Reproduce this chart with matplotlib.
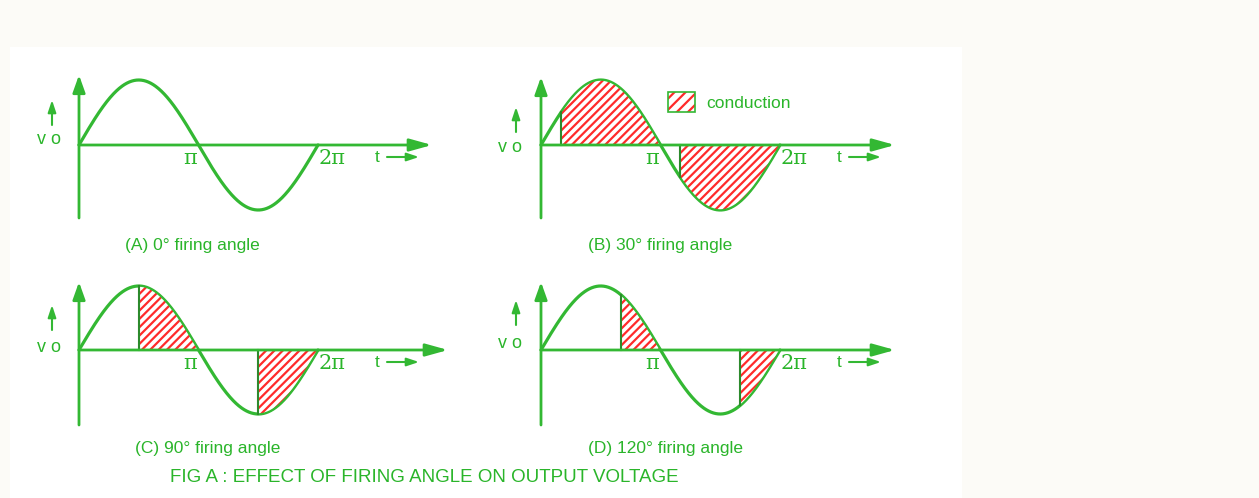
import numpy as np
import matplotlib.pyplot as plt
from matplotlib.patches import Rectangle

# ── Data ─────────────────────────────────────────────────────────
panel_ids = ['A', 'B', 'C', 'D']
firing_angles_deg = [0, 30, 90, 120]
captions = ['(A) 0° firing angle', '(B) 30° firing angle',
            '(C) 90° firing angle', '(D) 120° firing angle']
title = 'FIG A : EFFECT OF FIRING ANGLE ON OUTPUT VOLTAGE'
legend_label = 'conduction'
tick_labels = ['π', '2π']

# ── Layout (pixels of the 1259x498 picture) ──────────────────────
W, H = 1259, 498
origins = [(79, 145), (541, 145), (79, 350), (541, 350)]
amp_px = [65, 65, 64, 64]
period_px = 239
xaxis_len = [353, 354, 369, 354]
yaxis_top = [70, 68, 68, 68]
yaxis_bot = [73, 73, 75, 75]
caption_dx = [113, 119, 129, 124]
caption_dy = [100, 100, 98, 98]
vo_pos = [(-30, -5), (-31, 2), (-30, -3), (-31, -7)]
vo_arrow = [(-27, -20, -45), (-25, -13, -38), (-27, -20, -45), (-25, -25, -50)]

# ── Style ────────────────────────────────────────────────────────
GREEN = '#33b833'
DARK = '#2c8a2c'
RED = '#ff2a2a'
TXT = '#2ab52a'
SANS = 'Liberation Sans'
plt.rcParams['hatch.linewidth'] = 1.6

fig = plt.figure(figsize=(W / 100, H / 100), dpi=100, facecolor='#fcfbf7')
fig.patches.append(Rectangle((10 / W, 0), 952 / W, 1 - 47 / H,
                             transform=fig.transFigure, facecolor='white',
                             edgecolor='none', zorder=-10))

sx = period_px / (2 * np.pi)

for i, pid in enumerate(panel_ids):
    ox, oy = origins[i]
    sy = amp_px[i]
    L, R, T, B = ox - 75, ox + 385, oy - 75, oy + 110
    ax = fig.add_axes([L / W, 1 - B / H, (R - L) / W, (B - T) / H])
    ax.set_xlim((L - ox) / sx, (R - ox) / sx)
    ax.set_ylim((oy - B) / sy, (oy - T) / sy)
    ax.axis('off')

    def px(dx, dy):
        return dx / sx, -dy / sy

    # axes with filled arrowheads
    ax.annotate('', xy=px(0, -yaxis_top[i]), xytext=px(0, yaxis_bot[i]),
                arrowprops=dict(arrowstyle='-|>,head_length=0.7,head_width=0.25',
                                color=GREEN, lw=2, mutation_scale=15,
                                shrinkA=0, shrinkB=0), zorder=5)
    ax.annotate('', xy=px(xaxis_len[i], 0), xytext=(0, 0),
                arrowprops=dict(arrowstyle='-|>,head_length=0.9,head_width=0.25',
                                color=GREEN, lw=2, mutation_scale=15,
                                shrinkA=0, shrinkB=0), zorder=5)

    # supply voltage
    th = np.linspace(0, 2 * np.pi, 500)
    ax.plot(th, np.sin(th), color=GREEN, lw=2.3, zorder=1, solid_capstyle='round')

    # conduction intervals
    a = np.deg2rad(firing_angles_deg[i])
    if a > 0:
        for start, stop in [(a, np.pi), (np.pi + a, 2 * np.pi)]:
            seg = np.linspace(start, stop, 200)
            ax.fill_between(seg, np.sin(seg), 0, facecolor='white',
                            edgecolor=RED, hatch='////', linewidth=0, zorder=2)
            ax.plot(seg, np.sin(seg), color=GREEN, lw=1.1, zorder=3)
            ax.plot([start, start], [0, np.sin(start)], color=DARK, lw=1.5, zorder=3)

    # tick labels on the time axis
    ax.text(np.pi - 2 / sx, -13 / sy, tick_labels[0], ha='right', va='center',
            fontsize=15, color=TXT, family='DejaVu Serif')
    ax.text(2 * np.pi + 1 / sx, -13 / sy, tick_labels[1], ha='left', va='center',
            fontsize=15, color=TXT, family='DejaVu Serif')

    # t ---> label
    ax.text(*px(298, 12), 't', ha='center', va='center', fontsize=12.5,
            color=TXT, family=SANS)
    ax.annotate('', xy=px(340, 12), xytext=px(308, 12),
                arrowprops=dict(arrowstyle='-|>,head_length=0.6,head_width=0.2',
                                color=GREEN, lw=1.5, mutation_scale=12,
                                shrinkA=0, shrinkB=0))

    # Vo label with small up arrow
    ax.text(*px(*vo_pos[i]), 'v o', ha='center', va='center', fontsize=13,
            color=TXT, family=SANS)
    vx, vy0, vy1 = vo_arrow[i]
    ax.annotate('', xy=px(vx, vy1), xytext=px(vx, vy0),
                arrowprops=dict(arrowstyle='-|>,head_length=0.6,head_width=0.2',
                                color=GREEN, lw=1.5, mutation_scale=12,
                                shrinkA=0, shrinkB=0))

    ax.text(*px(caption_dx[i], caption_dy[i]), captions[i], ha='center',
            va='center', fontsize=12.5, color=TXT, family=SANS)

    if pid == 'B':
        bx0, by0 = px(127, -33)
        bx1, by1 = px(154, -53)
        ax.add_patch(Rectangle((bx0, by0), bx1 - bx0, by1 - by0, facecolor='white',
                               edgecolor=RED, hatch='///', linewidth=0, zorder=2))
        ax.add_patch(Rectangle((bx0, by0), bx1 - bx0, by1 - by0, facecolor='none',
                               edgecolor=GREEN, linewidth=1.2, zorder=3))
        ax.text(*px(165, -42), legend_label, ha='left', va='center',
                fontsize=12.5, color=TXT, family=SANS)

fig.text(424 / W, 1 - 477 / H, title, ha='center', va='center',
         fontsize=13.5, color=TXT, family=SANS)

fig.savefig('out.png', dpi=100, facecolor=fig.get_facecolor())
